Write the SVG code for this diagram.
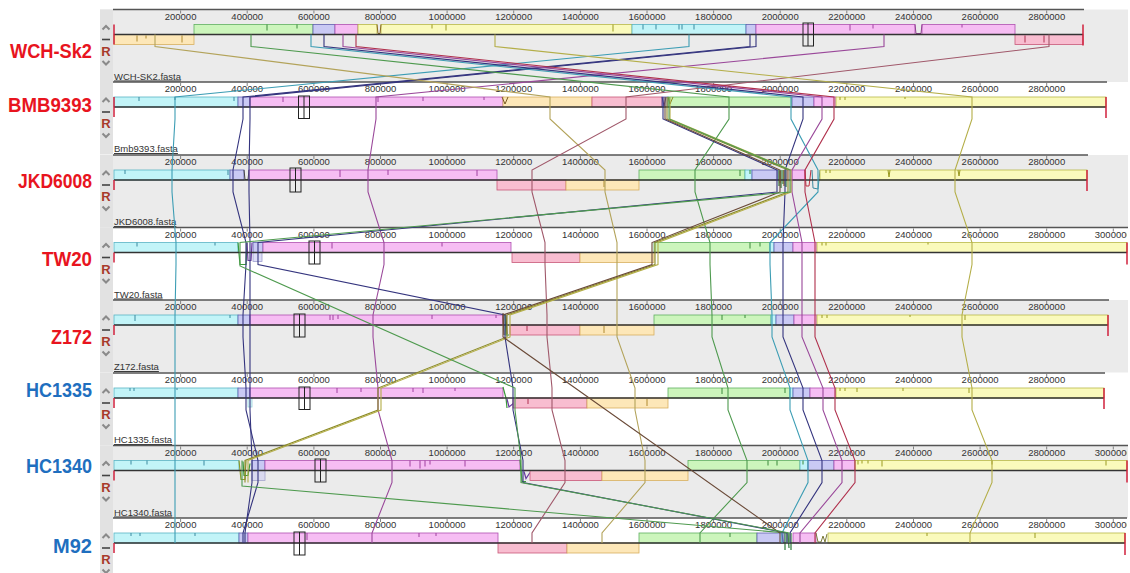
<svg xmlns="http://www.w3.org/2000/svg" width="1130" height="573" viewBox="0 0 1130 573">
<style>
.bg{fill:#ebebeb}
.ctl{fill:#e2e2e2}
.ax{stroke:#555;stroke-width:1.3}
.tm{stroke:#666;stroke-width:.8;fill:none}
.cl{stroke:#333;stroke-width:1.3}
.rt{stroke:#d0203c;stroke-width:1.5}
.tk{font-family:"Liberation Sans",Arial,sans-serif;font-size:9.5px;fill:#333;text-anchor:middle}
.fn{font-family:"Liberation Sans",Arial,sans-serif;font-size:9.5px;fill:#333;text-decoration:underline}
.nm{font-family:"Liberation Sans",Arial,sans-serif;font-size:20px;font-weight:bold;text-anchor:end}
.red{fill:#e8141e}
.blue{fill:#1f6fbf}
.cy{fill:#c2f4f8;stroke:#5ab4c4;stroke-width:.8}
.lv{fill:#c9c9f4;stroke:#6060b0;stroke-width:.8}
.pk{fill:#f6bdf3;stroke:#b050b0;stroke-width:.8}
.ye{fill:#fafabc;stroke:#b8b848;stroke-width:.8}
.gr{fill:#ccf5bc;stroke:#60b060;stroke-width:.8}
.ro{fill:#f8bdd0;stroke:#c85878;stroke-width:.8}
.pe{fill:#fde7b8;stroke:#d8b060;stroke-width:.8}
.mk{fill:none;stroke:#222;stroke-width:1}
.chev{fill:none;stroke:#8a8a8a;stroke-width:2}
.dash{stroke:#444;stroke-width:1.6}
.rr{font-family:"Liberation Sans",Arial,sans-serif;font-size:13px;font-weight:bold;fill:#a83a2a;text-anchor:middle}
.pf{fill:none;stroke-width:1}
.ms{fill:none;stroke-width:1.2}
.ln{fill:none;stroke-width:1.1}
.teal{stroke:#3c9db4}.navy{stroke:#34347e}.mag{stroke:#9a489a}.tan{stroke:#b3a35a}.rose{stroke:#a0586a}.grn{stroke:#4e9a4e}.yel{stroke:#b4ae48}.dred{stroke:#b0304c}.olv{stroke:#8a8a28}.brn{stroke:#6a4a38}
</style>
<defs>
<clipPath id="clipR"><rect x="0" y="0" width="1127" height="573"/></clipPath>
</defs>
<rect x="0" y="0" width="1130" height="573" fill="#fff"/>

<!-- Panel 0 WCH-Sk2 -->
<g id="wch-sk2">
<text class="nm red" x="92" y="58" textLength="82" lengthAdjust="spacingAndGlyphs">WCH-Sk2</text>
<g transform="translate(0,9.5)">
<rect class="bg" x="100" y="0" width="1028" height="72.5"/>
<rect class="ctl" x="100" y="0" width="13" height="72.5"/>
<line class="ax" x1="113" y1="0" x2="1084" y2="0"/>
<path class="tm" d="M180.6,1v3M247.2,1v3M313.9,1v3M380.5,1v3M447.1,1v3M513.7,1v3M580.4,1v3M647,1v3M713.6,1v3M780.2,1v3M846.8,1v3M913.5,1v3M980.1,1v3M1046.7,1v3"/>
<text class="tk" x="180.6" y="10">200000</text><text class="tk" x="247.2" y="10">400000</text><text class="tk" x="313.9" y="10">600000</text><text class="tk" x="380.5" y="10">800000</text><text class="tk" x="447.1" y="10">1000000</text><text class="tk" x="513.7" y="10">1200000</text><text class="tk" x="580.4" y="10">1400000</text><text class="tk" x="647" y="10">1600000</text><text class="tk" x="713.6" y="10">1800000</text><text class="tk" x="780.2" y="10">2000000</text><text class="tk" x="846.8" y="10">2200000</text><text class="tk" x="913.5" y="10">2400000</text><text class="tk" x="980.1" y="10">2600000</text><text class="tk" x="1046.7" y="10">2800000</text>
<rect class="pe" x="114" y="25" width="80" height="10"/>
<rect class="gr" x="194" y="15" width="119" height="10"/>
<rect class="lv" x="313" y="15" width="22" height="10"/>
<rect class="pk" x="335" y="15" width="23" height="10"/>
<rect class="ye" x="358" y="15" width="19" height="10"/>
<rect class="ye" x="381" y="15" width="251" height="10"/>
<rect class="cy" x="632" y="15" width="114" height="10"/>
<rect class="lv" x="746" y="15" width="10" height="10"/>
<rect class="pk" x="756" y="15" width="159" height="10"/>
<rect class="pk" x="922" y="15" width="93" height="10"/>
<rect class="ro" x="1015" y="25" width="68" height="10"/>
<path class="pf" stroke="#8a6a20" d="M377,15 L378,24 L380,24 L381,15"/>
<path class="pf" stroke="#904090" d="M915,15 L916,24 L921,24 L922,15"/>
<path class="pf" stroke="#b08a30" d="M137,26v6M182,26v7M146,26v3"/>
<path class="pf" stroke="#3a8a3a" d="M267,15v6M297,15v4"/>
<path class="pf" stroke="#9a9a20" d="M432,15v4M446,15v6M613,15v7"/>
<path class="pf" stroke="#3a8aa0" d="M643,15v5M656,15v5M679,15v5M682,15v5M694,15v5"/>
<path class="pf" stroke="#a040a0" d="M850,15v6M873,15v4M962,15v3"/>
<path class="pf" stroke="#b03050" d="M1025,26v7M1044,26v7"/>
<line class="cl" x1="114" y1="25" x2="1083" y2="25"/>
<line class="rt" x1="114" y1="15" x2="114" y2="35"/>
<line class="rt" x1="1083" y1="15" x2="1083" y2="36"/>
<rect class="mk" x="803" y="13.5" width="10.5" height="23"/><line class="mk" x1="808" y1="13.5" x2="808" y2="36.5"/>
<path class="chev" d="M102.5,20 L106,16.5 L109.5,20"/>
<line class="dash" x1="102" y1="30" x2="110" y2="30"/>
<text class="rr" x="106" y="46">R</text>
<path class="chev" d="M102.5,51.5 L106,55 L109.5,51.5"/>
<text class="fn" x="114" y="70">WCH-SK2.fasta</text>
</g>
</g>

<!-- Panel 1 BMB9393 -->
<g id="bmb9393">
<text class="nm red" x="92" y="112" textLength="84" lengthAdjust="spacingAndGlyphs">BMB9393</text>
<g transform="translate(0,82)">
<rect class="ctl" x="100" y="0" width="13" height="72.5"/>
<line class="ax" x1="113" y1="0" x2="1107" y2="0"/>
<path class="tm" d="M180.6,1v3M247.2,1v3M313.9,1v3M380.5,1v3M447.1,1v3M513.7,1v3M580.4,1v3M647,1v3M713.6,1v3M780.2,1v3M846.8,1v3M913.5,1v3M980.1,1v3M1046.7,1v3"/>
<text class="tk" x="180.6" y="10">200000</text><text class="tk" x="247.2" y="10">400000</text><text class="tk" x="313.9" y="10">600000</text><text class="tk" x="380.5" y="10">800000</text><text class="tk" x="447.1" y="10">1000000</text><text class="tk" x="513.7" y="10">1200000</text><text class="tk" x="580.4" y="10">1400000</text><text class="tk" x="647" y="10">1600000</text><text class="tk" x="713.6" y="10">1800000</text><text class="tk" x="780.2" y="10">2000000</text><text class="tk" x="846.8" y="10">2200000</text><text class="tk" x="913.5" y="10">2400000</text><text class="tk" x="980.1" y="10">2600000</text><text class="tk" x="1046.7" y="10">2800000</text>
<rect class="cy" x="114" y="15" width="124" height="10"/>
<rect class="lv" x="238" y="15" width="12" height="10"/>
<rect class="pk" x="250" y="15" width="253" height="10"/>
<rect class="pe" x="503" y="15" width="89" height="10"/>
<rect class="ro" x="592" y="15" width="70" height="10"/>
<rect class="lv" x="662" y="15" width="6" height="10"/>
<rect class="gr" x="668" y="15" width="124" height="10"/>
<rect class="lv" x="792" y="15" width="22" height="10"/>
<rect class="pk" x="814" y="15" width="22" height="10"/>
<rect class="ye" x="836" y="15" width="270" height="10"/>
<path class="pf" stroke="#3a8aa0" d="M139,15v4M175,15v3M234,15v4"/>
<path class="pf" stroke="#a040a0" d="M283,15v5M378,15v5M423,15v4M484,15v3"/>
<path class="pf" stroke="#7a5a20" d="M502,15 L505,22 L508,15"/>
<path class="pf" stroke="#5a3a8a" d="M662,15 L664,24 L666,15"/>
<path class="pf" stroke="#8a8a20" d="M668,15 L670,22 L673,15"/>
<path class="pf" stroke="#9a9a20" d="M840,15v3M845,15v3M905,15v2"/>
<line class="cl" x1="114" y1="25" x2="1106" y2="25"/>
<line class="rt" x1="114" y1="15" x2="114" y2="35"/>
<line class="rt" x1="1106" y1="15" x2="1106" y2="36"/>
<rect class="mk" x="298.5" y="14" width="11" height="22.5"/><line class="mk" x1="304" y1="14" x2="304" y2="36.5"/>
<path class="chev" d="M102.5,20 L106,16.5 L109.5,20"/>
<line class="dash" x1="102" y1="30" x2="110" y2="30"/>
<text class="rr" x="106" y="46">R</text>
<path class="chev" d="M102.5,51.5 L106,55 L109.5,51.5"/>
<text class="fn" x="114" y="70">Bmb9393.fasta</text>
</g>
</g>

<!-- Panel 2 JKD6008 -->
<g id="jkd6008">
<text class="nm red" x="92" y="188" textLength="74" lengthAdjust="spacingAndGlyphs">JKD6008</text>
<g transform="translate(0,155)">
<rect class="bg" x="100" y="0" width="1028" height="72.5"/>
<rect class="ctl" x="100" y="0" width="13" height="72.5"/>
<line class="ax" x1="113" y1="0" x2="1088" y2="0"/>
<path class="tm" d="M180.6,1v3M247.2,1v3M313.9,1v3M380.5,1v3M447.1,1v3M513.7,1v3M580.4,1v3M647,1v3M713.6,1v3M780.2,1v3M846.8,1v3M913.5,1v3M980.1,1v3M1046.7,1v3"/>
<text class="tk" x="180.6" y="10">200000</text><text class="tk" x="247.2" y="10">400000</text><text class="tk" x="313.9" y="10">600000</text><text class="tk" x="380.5" y="10">800000</text><text class="tk" x="447.1" y="10">1000000</text><text class="tk" x="513.7" y="10">1200000</text><text class="tk" x="580.4" y="10">1400000</text><text class="tk" x="647" y="10">1600000</text><text class="tk" x="713.6" y="10">1800000</text><text class="tk" x="780.2" y="10">2000000</text><text class="tk" x="846.8" y="10">2200000</text><text class="tk" x="913.5" y="10">2400000</text><text class="tk" x="980.1" y="10">2600000</text><text class="tk" x="1046.7" y="10">2800000</text>
<rect class="cy" x="114" y="15" width="116" height="10"/>
<rect class="lv" x="230" y="15" width="14" height="10"/>
<path class="pf" stroke="#444" d="M244,15 L245,24.5 L248,24.5 L249,15"/>
<rect class="pk" x="249" y="15" width="248" height="10"/>
<rect class="ro" x="497" y="25" width="69" height="10"/>
<rect class="pe" x="566" y="25" width="73" height="10"/>
<rect class="gr" x="639" y="15" width="106" height="10"/>
<rect class="cy" x="745" y="15" width="7" height="10"/>
<rect class="lv" x="752" y="15" width="26" height="10"/>
<path class="ms" stroke="#2e7a3a" d="M779,15v16M781,15v18M783,15v14M786,15v17"/>
<path class="ms" stroke="#8a6a20" d="M780,16v12M784,15v16"/>
<rect class="pk" x="787" y="15" width="18" height="10"/>
<path class="pf" stroke="#c03040" d="M805,15 L806,31 L809,31 L811,15"/>
<path class="pf" stroke="#3a8aa0" d="M812,15 L813,33 L818,34 L820,15"/>
<rect class="ye" x="820" y="15" width="267" height="10"/>
<path class="pf" stroke="#3a8aa0" d="M125,15v4M228,15v5"/>
<path class="pf" stroke="#a040a0" d="M340,15v7M388,15v5M477,15v6"/>
<path class="pf" stroke="#3a8a3a" d="M740,15v6M750,15v4"/>
<path class="pf" stroke="#9a9a20" d="M826,15v3M830,15v3M888,15 L889,22 L890,15M958,15 L959,21 L960,15"/>
<path class="pf" stroke="#b08a30" d="M604,26v6"/>
<line class="cl" x1="114" y1="25" x2="1087" y2="25"/>
<line class="rt" x1="114" y1="25" x2="114" y2="35"/>
<line class="rt" x1="1087" y1="15" x2="1087" y2="36"/>
<rect class="mk" x="290" y="13" width="11" height="24"/><line class="mk" x1="295.5" y1="13" x2="295.5" y2="37"/>
<path class="chev" d="M102.5,20 L106,16.5 L109.5,20"/>
<line class="dash" x1="102" y1="30" x2="110" y2="30"/>
<text class="rr" x="106" y="46">R</text>
<path class="chev" d="M102.5,51.5 L106,55 L109.5,51.5"/>
<text class="fn" x="114" y="70">JKD6008.fasta</text>
</g>
</g>

<!-- Panel 3 TW20 -->
<g id="tw20">
<text class="nm red" x="92" y="266" textLength="50" lengthAdjust="spacingAndGlyphs">TW20</text>
<g transform="translate(0,227.5)">
<rect class="ctl" x="100" y="0" width="13" height="72.5"/>
<line class="ax" x1="113" y1="0" x2="1128" y2="0"/>
<path class="tm" d="M180.6,1v3M247.2,1v3M313.9,1v3M380.5,1v3M447.1,1v3M513.7,1v3M580.4,1v3M647,1v3M713.6,1v3M780.2,1v3M846.8,1v3M913.5,1v3M980.1,1v3M1046.7,1v3M1113.3,1v3"/>
<text class="tk" x="180.6" y="10">200000</text><text class="tk" x="247.2" y="10">400000</text><text class="tk" x="313.9" y="10">600000</text><text class="tk" x="380.5" y="10">800000</text><text class="tk" x="447.1" y="10">1000000</text><text class="tk" x="513.7" y="10">1200000</text><text class="tk" x="580.4" y="10">1400000</text><text class="tk" x="647" y="10">1600000</text><text class="tk" x="713.6" y="10">1800000</text><text class="tk" x="780.2" y="10">2000000</text><text class="tk" x="846.8" y="10">2200000</text><text class="tk" x="913.5" y="10">2400000</text><text class="tk" x="980.1" y="10">2600000</text><text class="tk" x="1046.7" y="10">2800000</text><text class="tk" x="1113.3" y="10" clip-path="url(#clipR)">3000000</text>
<rect class="cy" x="114" y="15" width="124" height="10"/>
<path class="ms" stroke="#3a9a3a" d="M238,15 L240,37 L246,37 L247,15"/>
<path class="ms" stroke="#6a3aa0" d="M247,15 L248,33 L251,33 L252,15"/>
<rect class="lv" x="253" y="15" width="10" height="10"/>
<rect class="lv" x="253" y="25" width="9" height="9" opacity=".6"/>
<rect class="pk" x="263" y="15" width="248" height="10"/>
<rect class="ro" x="512" y="25" width="68" height="10"/>
<rect class="pe" x="580" y="25" width="74" height="10"/>
<rect class="gr" x="654" y="15" width="116" height="10"/>
<rect class="cy" x="770" y="15" width="4" height="10"/>
<rect class="lv" x="774" y="15" width="19" height="10"/>
<rect class="pk" x="793" y="15" width="24" height="10"/>
<rect class="ye" x="817" y="15" width="310" height="10"/>
<path class="pf" stroke="#3a8aa0" d="M137,15v4M215,15v3"/>
<path class="pf" stroke="#a040a0" d="M332,15v6M442,15v4"/>
<path class="pf" stroke="#3a8a3a" d="M750,15v6M760,15v4"/>
<path class="pf" stroke="#9a9a20" d="M822,15v3M826,15v3M928,15v2"/>
<line class="cl" x1="114" y1="25" x2="1127" y2="25"/>
<line class="rt" x1="114" y1="25" x2="114" y2="35"/>
<line class="rt" x1="1127" y1="15" x2="1127" y2="37"/>
<rect class="mk" x="309" y="13.5" width="11" height="23"/><line class="mk" x1="314.5" y1="13.5" x2="314.5" y2="36.5"/>
<path class="chev" d="M102.5,20 L106,16.5 L109.5,20"/>
<line class="dash" x1="102" y1="30" x2="110" y2="30"/>
<text class="rr" x="106" y="46">R</text>
<path class="chev" d="M102.5,51.5 L106,55 L109.5,51.5"/>
<text class="fn" x="114" y="70">TW20.fasta</text>
</g>
</g>

<!-- Panel 4 Z172 -->
<g id="z172">
<text class="nm red" x="92" y="344" textLength="41" lengthAdjust="spacingAndGlyphs">Z172</text>
<g transform="translate(0,300)">
<rect class="bg" x="100" y="0" width="1028" height="72.5"/>
<rect class="ctl" x="100" y="0" width="13" height="72.5"/>
<line class="ax" x1="113" y1="0" x2="1109" y2="0"/>
<path class="tm" d="M180.6,1v3M247.2,1v3M313.9,1v3M380.5,1v3M447.1,1v3M513.7,1v3M580.4,1v3M647,1v3M713.6,1v3M780.2,1v3M846.8,1v3M913.5,1v3M980.1,1v3M1046.7,1v3"/>
<text class="tk" x="180.6" y="10">200000</text><text class="tk" x="247.2" y="10">400000</text><text class="tk" x="313.9" y="10">600000</text><text class="tk" x="380.5" y="10">800000</text><text class="tk" x="447.1" y="10">1000000</text><text class="tk" x="513.7" y="10">1200000</text><text class="tk" x="580.4" y="10">1400000</text><text class="tk" x="647" y="10">1600000</text><text class="tk" x="713.6" y="10">1800000</text><text class="tk" x="780.2" y="10">2000000</text><text class="tk" x="846.8" y="10">2200000</text><text class="tk" x="913.5" y="10">2400000</text><text class="tk" x="980.1" y="10">2600000</text><text class="tk" x="1046.7" y="10">2800000</text>
<rect class="cy" x="114" y="15" width="124" height="10"/>
<rect class="lv" x="238" y="15" width="12" height="10"/>
<rect class="pk" x="250" y="15" width="253" height="10"/>
<path class="ms" stroke="#6a4a38" d="M503,13 L504,35 M506,15 L507,34"/>
<path class="ms" stroke="#3a9a3a" d="M505,14 L506,35 L509,35"/>
<rect class="ro" x="510" y="25" width="70" height="10"/>
<rect class="pe" x="580" y="25" width="74" height="10"/>
<rect class="gr" x="654" y="15" width="117" height="10"/>
<rect class="cy" x="771" y="15" width="5" height="10"/>
<rect class="lv" x="776" y="15" width="18" height="10"/>
<rect class="pk" x="794" y="15" width="23" height="10"/>
<rect class="ye" x="817" y="15" width="291" height="10"/>
<path class="pf" stroke="#3a8aa0" d="M135,15v6M230,15v3"/>
<path class="pf" stroke="#a040a0" d="M330,15v5M333,15v5M338,15v4M432,15v4M496,15v3"/>
<path class="pf" stroke="#b03050" d="M527,26v5"/>
<path class="pf" stroke="#b08a30" d="M604,26v7"/>
<path class="pf" stroke="#3a8a3a" d="M722,15v5M745,15v3"/>
<path class="pf" stroke="#9a9a20" d="M822,15v3M827,15v3M910,15v2M965,15v5"/>
<line class="cl" x1="114" y1="25" x2="1108" y2="25"/>
<line class="rt" x1="114" y1="25" x2="114" y2="35"/>
<line class="rt" x1="1108" y1="15" x2="1108" y2="36"/>
<rect class="mk" x="294" y="14" width="11" height="23"/><line class="mk" x1="299.5" y1="14" x2="299.5" y2="37"/>
<path class="chev" d="M102.5,20 L106,16.5 L109.5,20"/>
<line class="dash" x1="102" y1="30" x2="110" y2="30"/>
<text class="rr" x="106" y="46">R</text>
<path class="chev" d="M102.5,51.5 L106,55 L109.5,51.5"/>
<text class="fn" x="114" y="70">Z172.fasta</text>
</g>
</g>

<!-- Panel 5 HC1335 -->
<g id="hc1335">
<text class="nm blue" x="92" y="397" textLength="66" lengthAdjust="spacingAndGlyphs">HC1335</text>
<g transform="translate(0,373)">
<rect class="ctl" x="100" y="0" width="13" height="72.5"/>
<line class="ax" x1="113" y1="0" x2="1105" y2="0"/>
<path class="tm" d="M180.6,1v3M247.2,1v3M313.9,1v3M380.5,1v3M447.1,1v3M513.7,1v3M580.4,1v3M647,1v3M713.6,1v3M780.2,1v3M846.8,1v3M913.5,1v3M980.1,1v3M1046.7,1v3"/>
<text class="tk" x="180.6" y="10">200000</text><text class="tk" x="247.2" y="10">400000</text><text class="tk" x="313.9" y="10">600000</text><text class="tk" x="380.5" y="10">800000</text><text class="tk" x="447.1" y="10">1000000</text><text class="tk" x="513.7" y="10">1200000</text><text class="tk" x="580.4" y="10">1400000</text><text class="tk" x="647" y="10">1600000</text><text class="tk" x="713.6" y="10">1800000</text><text class="tk" x="780.2" y="10">2000000</text><text class="tk" x="846.8" y="10">2200000</text><text class="tk" x="913.5" y="10">2400000</text><text class="tk" x="980.1" y="10">2600000</text><text class="tk" x="1046.7" y="10">2800000</text>
<rect class="cy" x="114" y="15" width="124" height="10"/>
<rect class="lv" x="238" y="15" width="12" height="10"/>
<rect class="cy" x="248" y="25" width="4" height="9" opacity=".6"/>
<rect class="pk" x="250" y="15" width="253" height="10"/>
<path class="ms" stroke="#3a9a3a" d="M503,14 L506,25 L507,35"/>
<path class="ms" stroke="#6a3aa0" d="M507,26 L509,34 L514,30 L515,25"/>
<rect class="ro" x="513" y="25" width="74" height="10"/>
<rect class="pe" x="587" y="25" width="81" height="10"/>
<rect class="gr" x="668" y="15" width="122" height="10"/>
<rect class="cy" x="790" y="15" width="3" height="10"/>
<rect class="lv" x="793" y="15" width="17" height="10"/>
<rect class="pk" x="810" y="15" width="26" height="10"/>
<rect class="ye" x="836" y="15" width="268" height="10"/>
<path class="pf" stroke="#3a8aa0" d="M130,15v3M134,15v3M177,15v2"/>
<path class="pf" stroke="#a040a0" d="M337,15v5M361,15v4M413,15v4M423,15v5M455,15v3"/>
<path class="pf" stroke="#b03050" d="M528,26v5"/>
<path class="pf" stroke="#b08a30" d="M647,26v7"/>
<path class="pf" stroke="#3a8a3a" d="M722,15v6M785,15v5"/>
<path class="pf" stroke="#9a9a20" d="M840,15v3M845,15v3M857,15v4M903,15v3M969,15v5"/>
<line class="cl" x1="114" y1="25" x2="1104" y2="25"/>
<line class="rt" x1="114" y1="25" x2="114" y2="35"/>
<line class="rt" x1="1104" y1="15" x2="1104" y2="36"/>
<rect class="mk" x="299" y="14" width="11" height="22.5"/><line class="mk" x1="304.5" y1="14" x2="304.5" y2="36.5"/>
<path class="chev" d="M102.5,20 L106,16.5 L109.5,20"/>
<line class="dash" x1="102" y1="30" x2="110" y2="30"/>
<text class="rr" x="106" y="46">R</text>
<path class="chev" d="M102.5,51.5 L106,55 L109.5,51.5"/>
<text class="fn" x="114" y="70">HC1335.fasta</text>
</g>
</g>

<!-- Panel 6 HC1340 -->
<g id="hc1340">
<text class="nm blue" x="92" y="473" textLength="66" lengthAdjust="spacingAndGlyphs">HC1340</text>
<g transform="translate(0,445.5)">
<rect class="bg" x="100" y="0" width="1028" height="72.5"/>
<rect class="ctl" x="100" y="0" width="13" height="72.5"/>
<line class="ax" x1="113" y1="0" x2="1128" y2="0"/>
<path class="tm" d="M180.6,1v3M247.2,1v3M313.9,1v3M380.5,1v3M447.1,1v3M513.7,1v3M580.4,1v3M647,1v3M713.6,1v3M780.2,1v3M846.8,1v3M913.5,1v3M980.1,1v3M1046.7,1v3M1113.3,1v3"/>
<text class="tk" x="180.6" y="10">200000</text><text class="tk" x="247.2" y="10">400000</text><text class="tk" x="313.9" y="10">600000</text><text class="tk" x="380.5" y="10">800000</text><text class="tk" x="447.1" y="10">1000000</text><text class="tk" x="513.7" y="10">1200000</text><text class="tk" x="580.4" y="10">1400000</text><text class="tk" x="647" y="10">1600000</text><text class="tk" x="713.6" y="10">1800000</text><text class="tk" x="780.2" y="10">2000000</text><text class="tk" x="846.8" y="10">2200000</text><text class="tk" x="913.5" y="10">2400000</text><text class="tk" x="980.1" y="10">2600000</text><text class="tk" x="1046.7" y="10">2800000</text><text class="tk" x="1113.3" y="10" clip-path="url(#clipR)">3000000</text>
<rect class="cy" x="114" y="15" width="125" height="10"/>
<path class="ms" stroke="#8a9a2a" d="M239,15 L241,34 L245,34 L246,15"/>
<path class="ms" stroke="#3a9a3a" d="M243,16 L244,30 L248,30 L250,18"/>
<rect class="lv" x="252" y="15" width="13" height="10"/>
<rect class="lv" x="252" y="25" width="13" height="10" opacity=".5"/>
<rect class="pk" x="265" y="15" width="255" height="10"/>
<path class="ms" stroke="#3a9a3a" d="M520,14 L522,36 L526,36"/>
<path class="ms" stroke="#6a3aa0" d="M524,26 L526,33 L530,27"/>
<rect class="ro" x="530" y="25" width="72" height="10"/>
<rect class="pe" x="602" y="25" width="86" height="10"/>
<rect class="gr" x="688" y="15" width="112" height="10"/>
<rect class="cy" x="800" y="15" width="8" height="10"/>
<rect class="lv" x="808" y="15" width="26" height="10"/>
<rect class="pk" x="834" y="15" width="21" height="10"/>
<rect class="ye" x="855" y="15" width="272" height="10"/>
<path class="pf" stroke="#3a8aa0" d="M131,15v4M147,15v4M204,15v5"/>
<path class="pf" stroke="#a040a0" d="M410,15v6M420,15v8M425,15v6M430,15v4M465,15v6"/>
<path class="pf" stroke="#3a8a3a" d="M768,15v5M777,15v5M803,15v4"/>
<path class="pf" stroke="#9a9a20" d="M858,15v4M862,15v3M868,15v3M882,15v6M992,15v4M1106,15v5"/>
<line class="cl" x1="114" y1="25" x2="1127" y2="25"/>
<line class="rt" x1="114" y1="25" x2="114" y2="35"/>
<line class="rt" x1="1127" y1="15" x2="1127" y2="37"/>
<rect class="mk" x="315" y="13.5" width="11" height="23"/><line class="mk" x1="320.5" y1="13.5" x2="320.5" y2="36.5"/>
<path class="chev" d="M102.5,20 L106,16.5 L109.5,20"/>
<line class="dash" x1="102" y1="30" x2="110" y2="30"/>
<text class="rr" x="106" y="46">R</text>
<path class="chev" d="M102.5,51.5 L106,55 L109.5,51.5"/>
<text class="fn" x="114" y="70">HC1340.fasta</text>
</g>
</g>

<!-- Panel 7 M92 -->
<g id="m92">
<text class="nm blue" x="92" y="553" textLength="39" lengthAdjust="spacingAndGlyphs">M92</text>
<g transform="translate(0,518)">
<rect class="ctl" x="100" y="0" width="13" height="55"/>
<line class="ax" x1="113" y1="0" x2="1127" y2="0"/>
<path class="tm" d="M180.6,1v3M247.2,1v3M313.9,1v3M380.5,1v3M447.1,1v3M513.7,1v3M580.4,1v3M647,1v3M713.6,1v3M780.2,1v3M846.8,1v3M913.5,1v3M980.1,1v3M1046.7,1v3M1113.3,1v3"/>
<text class="tk" x="180.6" y="10">200000</text><text class="tk" x="247.2" y="10">400000</text><text class="tk" x="313.9" y="10">600000</text><text class="tk" x="380.5" y="10">800000</text><text class="tk" x="447.1" y="10">1000000</text><text class="tk" x="513.7" y="10">1200000</text><text class="tk" x="580.4" y="10">1400000</text><text class="tk" x="647" y="10">1600000</text><text class="tk" x="713.6" y="10">1800000</text><text class="tk" x="780.2" y="10">2000000</text><text class="tk" x="846.8" y="10">2200000</text><text class="tk" x="913.5" y="10">2400000</text><text class="tk" x="980.1" y="10">2600000</text><text class="tk" x="1046.7" y="10">2800000</text><text class="tk" x="1113.3" y="10" clip-path="url(#clipR)">3000000</text>
<rect class="cy" x="114" y="15" width="125" height="10"/>
<rect class="lv" x="239" y="15" width="9" height="10"/>
<rect class="pk" x="248" y="15" width="250" height="10"/>
<rect class="ro" x="498" y="25" width="69" height="10"/>
<rect class="pe" x="567" y="25" width="72" height="10"/>
<rect class="gr" x="639" y="15" width="118" height="10"/>
<rect class="lv" x="757" y="15" width="27" height="10"/>
<path class="ms" stroke="#2e7a3a" d="M785,15 L785,32 M788,15 L789,30 M791,15 L791,32"/>
<path class="ms" stroke="#6a3aa0" d="M782,15 L783,24"/>
<rect class="pk" x="793" y="15" width="23" height="10"/>
<path class="pf" stroke="#7a7a3a" d="M816,15 L818,24 L821,24 L823,18 L825,24 L827,16"/>
<rect class="ye" x="828" y="15" width="297" height="10"/>
<path class="pf" stroke="#3a8aa0" d="M131,15v3M140,15v3M195,15v3"/>
<path class="pf" stroke="#a040a0" d="M307,15v7M419,15v4M436,15v3"/>
<path class="pf" stroke="#3a8a3a" d="M730,15v4"/>
<path class="pf" stroke="#9a9a20" d="M927,15v3M1035,15v5"/>
<line class="cl" x1="114" y1="25" x2="1125" y2="25"/>
<line class="rt" x1="114" y1="25" x2="114" y2="35"/>
<line class="rt" x1="1125" y1="15" x2="1125" y2="37"/>
<rect class="mk" x="294" y="14" width="11" height="23"/><line class="mk" x1="299.5" y1="14" x2="299.5" y2="37"/>
<path class="chev" d="M102.5,20 L106,16.5 L109.5,20"/>
<line class="dash" x1="102" y1="30" x2="110" y2="30"/>
<text class="rr" x="106" y="46">R</text>
<path class="chev" d="M102.5,51.5 L106,55 L109.5,51.5"/>
</g>
</g>

<!-- LCB connectors -->
<g id="connectors">
<polyline class="ln teal" points="689,34.5 689,46.5 175,97 175,119 172,170 172,192 176,242.5 176,264.5 175,315 175,337 175,388 175,410 175,460.5 175,482.5 175,533 175,543"/>
<polyline class="ln mag" points="884,34.5 884,46.5 376,97 376,119 368,170 368,192 384,242.5 384,264.5 373,315 373,337 378,388 378,410 392,460.5 392,482.5 372,533 372,543"/>
<polyline class="ln navy" points="750,34.5 750,46.5 243,97 243,119 233,170 233,192 246,242.5 246,264.5 243,315 243,337 246,388 246,410 258,460.5 258,482.5 243,533 243,543"/>
<polyline class="ln navy" points="756,34.5 756,46.5 250,97 250,119 249,170 249,192 250,242.5 250,264.5 250,315 250,337 250,388 250,410 252,460.5 252,482.5 245,533 245,543"/>
<polyline class="ln tan" points="155,34.5 155,46.5 550,97 550,119 605,170 605,192 617,242.5 617,264.5 617,315 617,337 635,388 635,410 645,460.5 645,482.5 602,533 602,543"/>
<polyline class="ln rose" points="1049,34.5 1049,46.5 626,97 626,119 532,170 532,192 545,242.5 545,264.5 547,315 547,337 552,388 552,410 565,460.5 565,482.5 532,533 532,543"/>
<polyline class="ln grn" points="251,34.5 251,46.5 729,97 729,119 695,170 695,192 710,242.5 710,264.5 712,315 712,337 728,388 728,410 747,460.5 747,482.5 700,533 700,543"/>
<polyline class="ln yel" points="495,34.5 495,46.5 972,97 972,119 955,170 955,192 972,242.5 972,264.5 962,315 962,337 972,388 972,410 992,460.5 992,482.5 970,533 970,543"/>
<polyline class="ln teal" points="311,34.5 311,46.5 791,97 791,119 818,170 818,192 770,242.5 770,264.5 772,315 772,337 790,388 790,410 808,460.5 808,482.5 782,533 782,543"/>
<polyline class="ln navy" stroke-width="1.4" points="324,34.5 324,46.5 803,97 803,119 785,170 785,192 783,242.5 783,264.5 783,315 783,337 803,388 803,410 822,460.5 822,482.5 790,533 790,543"/>
<polyline class="ln mag" stroke-width="1.4" points="343,34.5 343,46.5 822,97 822,119 792,170 792,192 802,242.5 802,264.5 802,315 802,337 823,388 823,410 842,460.5 842,482.5 800,533 800,543"/>
<polyline class="ln dred" stroke-width="1.4" points="356,34.5 356,46.5 834,97 834,119 805,170 805,192 815,242.5 815,264.5 815,315 815,337 835,388 835,410 855,460.5 855,482.5 815,533 815,543"/>
<polyline class="ln olv" stroke-width="1.8" points="667,97 667,119 788,170 788,192 655,242.5 655,264.5 507,315 507,337 378,388 378,410 245,460.5 245,482.5"/>
<polyline class="ln yel" points="670,97 670,119 791,170 791,192 658,242.5 658,264.5 510,315 510,337 381,388 381,410 248,460.5 248,482.5"/>
<polyline class="ln grn" stroke-width="1.4" points="242,460.5 242,486 787,533 787,543"/>
<polyline class="ln navy" stroke-width="1.8" points="663,97 663,119 777,170 777,192 258,242.5 258,264.5 505,315 505,337 513,388 513,410 523,460.5 523,482.5 787,533 787,543"/>
<polyline class="ln brn" points="665,97 665,119 780,170 780,192 652,242.5 652,264.5 503,315 503,337 780,533 780,543"/>
<polyline class="ln grn" stroke-width="1.4" points="669,97 669,119 790,170 790,192 240,242.5 240,266 515,388 515,410 521,460.5 521,482.5 789,533 789,543"/>
</g>
</svg>
